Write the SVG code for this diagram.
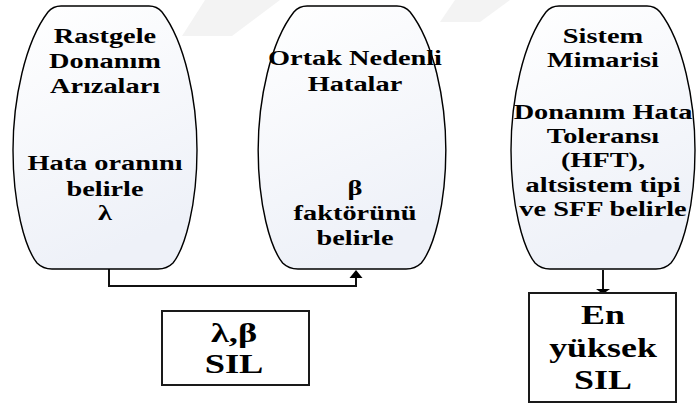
<svg xmlns="http://www.w3.org/2000/svg" width="697" height="405" viewBox="0 0 697 405">
  <style>
    .node-shape { fill: url(#barrelFill); stroke: #000; stroke-width: 1.4; }
    .box { fill: #fff; stroke: #1a1a1a; stroke-width: 2; }
    .lbl { font-family: 'Liberation Serif', 'DejaVu Serif', serif; font-weight: 700; font-size: 21px; fill: #000; text-anchor: middle; }
    .big { font-size: 27px; }
    .wire { fill: none; stroke: #111; stroke-width: 2; }
    .mark { fill: #f3f3f3; }
  </style>
  <defs>
    <linearGradient id="barrelFill" x1="0" y1="0" x2="0.3" y2="1">
      <stop offset="0" stop-color="#ffffff"/>
      <stop offset="1" stop-color="#eef1f8"/>
    </linearGradient>
    <!-- barrel outline centred on x = 0 -->
    <path id="barrel" d="M-44,6 L44,6 Q52,6 57,12 C80,42 92,100 92,150 C92,205 80,248 68,263 Q62,269 53,269 L-53,269 Q-62,269 -68,263 C-80,248 -92,205 -92,150 C-92,100 -80,42 -57,12 Q-52,6 -44,6 Z"/>
  </defs>

  <rect width="697" height="405" fill="#fff"/>
  <!-- faint background bands -->
  <polygon class="mark" points="205,0 280,0 232,36 182,36"/>
  <polygon class="mark" points="455,0 510,0 480,22 440,22"/>

  <g id="connectors">
    <path class="wire" d="M109,269 V286 H356 V277"/>
    <polygon points="349.5,278 356,270 362.5,278" fill="#000"/>
    <path class="wire" d="M603,270 V290"/>
    <polygon points="596,289 610,289 603,294" fill="#000"/>
  </g>

  <g id="node-rastgele">
    <use href="#barrel" class="node-shape" transform="translate(105,0)"/>
    <g transform="translate(105,0) scale(1.35,1)">
      <text class="lbl" x="0" y="43">Rastgele</text>
      <text class="lbl" x="0" y="68">Donanım</text>
      <text class="lbl" x="0" y="93">Arızaları</text>
      <text class="lbl" x="0" y="170">Hata oranını</text>
      <text class="lbl" x="0" y="196">belirle</text>
      <text class="lbl" x="0" y="220">λ</text>
    </g>
  </g>

  <g id="node-ortak">
    <use href="#barrel" class="node-shape" transform="translate(352,0) scale(1.02,1)"/>
    <g transform="translate(355,0) scale(1.35,1)">
      <text class="lbl" x="0" y="65">Ortak Nedenli</text>
      <text class="lbl" x="0" y="91">Hatalar</text>
      <text class="lbl" x="0" y="195">β</text>
      <text class="lbl" x="0" y="220">faktörünü</text>
      <text class="lbl" x="0" y="245">belirle</text>
    </g>
  </g>

  <g id="node-sistem">
    <use href="#barrel" class="node-shape" transform="translate(603,0)"/>
    <g transform="translate(603,0) scale(1.35,1)">
      <text class="lbl" x="0" y="43">Sistem</text>
      <text class="lbl" x="0" y="67">Mimarisi</text>
      <text class="lbl" x="0" y="119">Donanım Hata</text>
      <text class="lbl" x="0" y="143">Toleransı</text>
      <text class="lbl" x="0" y="167">(HFT),</text>
      <text class="lbl" x="0" y="192">altsistem tipi</text>
      <text class="lbl" x="0" y="216">ve SFF belirle</text>
    </g>
  </g>

  <g id="box-lambda-beta">
    <rect class="box" x="162" y="311" width="147" height="74"/>
    <g transform="translate(234,0) scale(1.35,1)">
      <text class="lbl big" x="0" y="342">λ,β</text>
      <text class="lbl big" x="0" y="373">SIL</text>
    </g>
  </g>

  <g id="box-en-yuksek">
    <rect class="box" x="529" y="293" width="147" height="109"/>
    <g transform="translate(603,0) scale(1.33,1)">
      <text class="lbl big" x="0" y="324">En</text>
      <text class="lbl big" x="0" y="357">yüksek</text>
      <text class="lbl big" x="0" y="389">SIL</text>
    </g>
  </g>
</svg>
